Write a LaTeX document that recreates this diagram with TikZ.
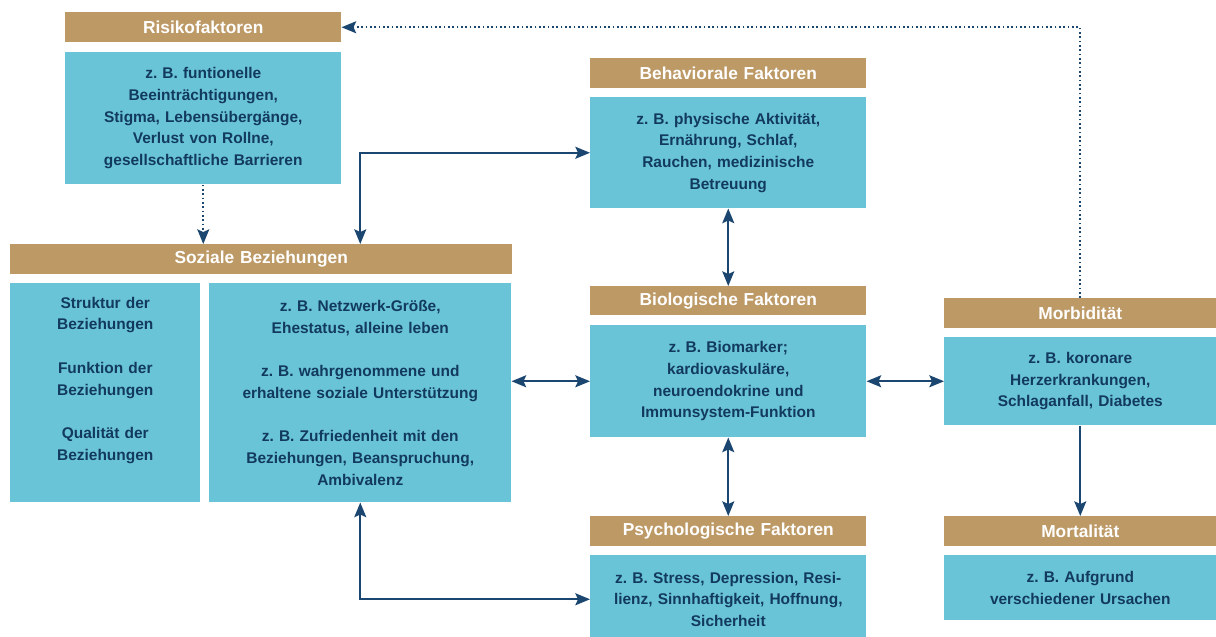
\documentclass[tikz,border=0pt]{standalone}
\usepackage{fontspec}
\setmainfont{Liberation Sans}
\usetikzlibrary{arrows.meta}
\definecolor{gold}{HTML}{BD9966}
\definecolor{cyanbox}{HTML}{6AC4D8}
\definecolor{navy}{HTML}{123A5E}
\definecolor{arrowc}{HTML}{1B4670}
\frenchspacing
\begin{document}
\begin{tikzpicture}[x=0.75pt,y=-0.75pt,
  sz/.style 2 args={minimum width=#1*0.75pt, text width=#1*0.75pt, minimum height=#2*0.75pt},
  hdr/.style={fill=gold, text=white, font=\fontsize{13}{15}\selectfont\bfseries, anchor=north west, inner sep=0pt, align=center},
  bodybox/.style={fill=cyanbox, text=navy, font=\fontsize{11.6}{16.3}\selectfont\bfseries, anchor=north west, inner sep=0pt, align=center},
  conn/.style={draw=arrowc, line width=1.25pt},
  onetip/.style={-{Stealth[length=11pt,width=9pt,inset=2pt]}},
  twotips/.style={{Stealth[length=11pt,width=9pt,inset=2pt]}-{Stealth[length=11pt,width=9pt,inset=2pt]}}
]
\useasboundingbox (0,0) rectangle (1216,636);
\clip (0,0) rectangle (1216,636);

\node[hdr, sz={276}{30}] (risH) at (65,12) {Risikofaktoren};
\node[bodybox, sz={276}{132}] (risB) at (65,52) {z. B. funtionelle\\Beeinträchtigungen,\\Stigma, Lebensübergänge,\\Verlust von Rollne,\\gesellschaftliche Barrieren};

\node[hdr, sz={276}{30}] (behH) at (590,58) {Behaviorale Faktoren};
\node[bodybox, sz={276}{111}] (behB) at (590,97) {z. B. physische Aktivität,\\Ernährung, Schlaf,\\Rauchen, medizinische\\Betreuung};

\node[hdr, sz={502}{30}] (sozH) at (10,244) {Soziale Beziehungen};
\node[bodybox, sz={190}{219}] (sozL) at (10,283) {Struktur der\\Beziehungen\\[16.3pt]Funktion der\\Beziehungen\\[16.3pt]Qualität der\\Beziehungen\\\strut};
\node[bodybox, sz={302}{219}] (sozR) at (209,283) {z. B. Netzwerk-Größe,\\Ehestatus, alleine leben\\[16.3pt]z. B. wahrgenommene und\\erhaltene soziale Unterstützung\\[16.3pt]z. B. Zufriedenheit mit den\\Beziehungen, Beanspruchung,\\Ambivalenz};

\node[hdr, sz={276}{29}] (bioH) at (590,286) {Biologische Faktoren};
\node[bodybox, sz={276}{112}] (bioB) at (590,325) {z. B. Biomarker;\\kardiovaskuläre,\\neuroendokrine und\\Immunsystem-Funktion};

\node[hdr, sz={272}{30}] (morH) at (944,298) {Morbidität};
\node[bodybox, sz={272}{88}] (morB) at (944,337) {z. B. koronare\\Herzerkrankungen,\\Schlaganfall, Diabetes};

\node[hdr, sz={276}{30}] (psyH) at (590,516) {Psychologische Faktoren};
\node[bodybox, sz={276}{88}] (psyB) at (590,555) {z. B. Stress, Depression, Resi-\\lienz, Sinnhaftigkeit, Hoffnung,\\Sicherheit};

\node[hdr, sz={272}{30}] (mortH) at (944,516) {Mortalität};
\node[bodybox, sz={272}{65}] (mortB) at (944,555) {z. B. Aufgrund\\verschiedener Ursachen};

% connectors
\draw[conn, dotted, onetip] (morH.north) |- (risH.east);
\draw[conn, dotted, onetip] (risB.south) -- (risB.south |- sozH.north);
\draw[conn, twotips] (sozR.south |- sozH.north) |- (behB.west);
\draw[conn, twotips] (behB.south) -- (bioH.north);
\draw[conn, twotips] (bioB.south) -- (psyH.north);
\draw[conn, twotips] (sozR.east |- bioB.west) -- (bioB.west);
\draw[conn, twotips] (bioB.east) -- (morB.west);
\draw[conn, onetip] (morB.south) -- (mortH.north);
\draw[conn, twotips] (sozR.south) |- (psyB.west);
\end{tikzpicture}
\end{document}
